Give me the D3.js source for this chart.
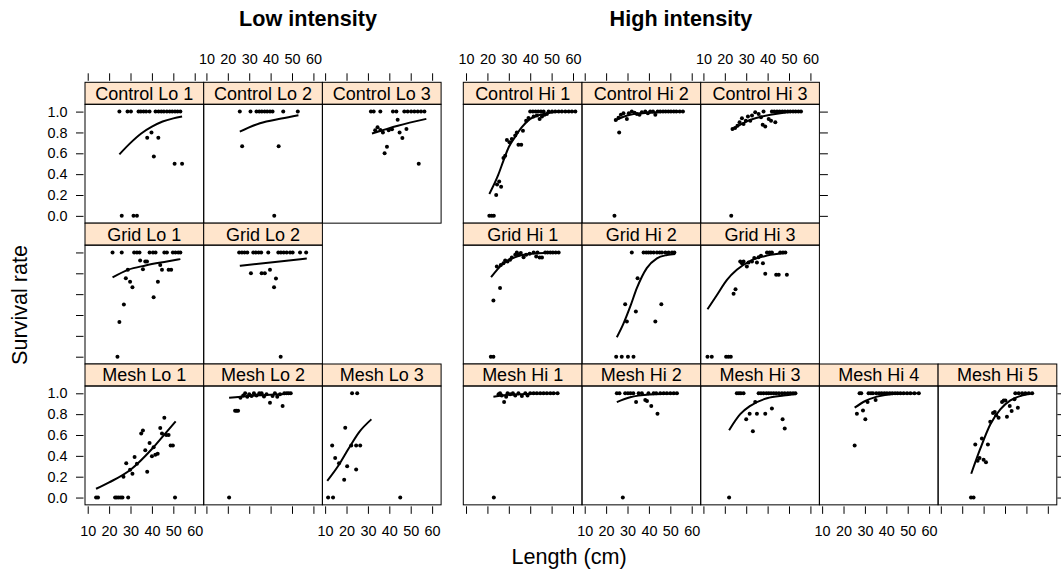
<!DOCTYPE html>
<html><head><meta charset="utf-8">
<script src="https://cdn.jsdelivr.net/npm/d3@7"></script>
<style>
body{margin:0;background:#fff}
svg{display:block}
text{font-family:"Liberation Sans",Arial,Helvetica,sans-serif;fill:#000}
</style>
</head><body>
<svg id="chart" width="1061" height="574"></svg>
<script>
// ---------- tick labels ----------
const xTicks = [10, 20, 30, 40, 50, 60];
const yTicks = [0, 0.2, 0.4, 0.6, 0.8, 1.0];

// ---------- panel layout (names) ----------
const loLayout = [
  ["Control Lo 1", "Control Lo 2", "Control Lo 3"],
  ["Grid Lo 1", "Grid Lo 2", null],
  ["Mesh Lo 1", "Mesh Lo 2", "Mesh Lo 3"]
];
const hiLayout = [
  ["Control Hi 1", "Control Hi 2", "Control Hi 3", null, null],
  ["Grid Hi 1", "Grid Hi 2", "Grid Hi 3", null, null],
  ["Mesh Hi 1", "Mesh Hi 2", "Mesh Hi 3", "Mesh Hi 4", "Mesh Hi 5"]
];

// ---------- data: observed points [length, survival] and fitted curve ----------
const ptsControlLo1 = [[24.8,1],[28.6,1],[30.2,1],[33.75,1],[34.8,1],[36.1,1],[37.3,1],[38.9,1],[41.7,1],[43.1,1],[44.4,1],[45.6,1],[47,1],[48.3,1],[49.5,1],[50.8,1],[52,1],[53.3,1],
  [37.8,0.75],[39.8,0.8],[43,0.75],[40.9,0.57],[50.6,0.5],[54.1,0.5],[25.9,0],[31.4,0],[33,0]];
const fitControlLo1 = [[24.8,0.59],[30,0.70],[35,0.79],[40,0.855],[45,0.905],[50,0.935],[54.1,0.952]];

const ptsControlLo2 = [[25.6,1],[30.6,1],[33.4,1],[34.7,1],[35.9,1],[37.2,1],[38.4,1],[39.7,1],[40.9,1],[45.9,1],[52.7,1],
  [26.7,0.667],[43.75,0.667],[41.7,0]];
const fitControlLo2 = [[25.6,0.808],[35,0.888],[45,0.933],[53,0.965]];

const ptsControlLo3 = [[31.4,1],[32.7,1],[35.8,1],[41.7,1],[43.3,1],[47,1],[48.6,1],[50.2,1],[51.7,1],[53.3,1],[54.8,1],[56.4,1],
  [43.9,0.923],[33.4,0.82],[34.5,0.85],[35.8,0.824],[37,0.8],[39.7,0.82],[41.25,0.83],[44.8,0.8],[46.1,0.747],[48,0.833],[38.9,0.663],[37.8,0.6],[53.75,0.5]];
const fitControlLo3 = [[31.9,0.79],[44,0.865],[57.3,0.93]];

const ptsGridLo1 = [[21.6,1],[25.9,1],[31.7,1],[33,1],[34.2,1],[38.9,1],[40.5,1],[41.7,1],[45.8,1],[47,1],[49.8,1],[51,1],[52.3,1],[53.3,1],
  [34.5,0.923],[36.9,0.913],[37.7,0.913],[28.75,0.833],[35.8,0.84],[43.9,0.88],[44.7,0.833],[47.8,0.833],[49,0.833],[27.8,0.753],[29.8,0.718],[30.9,0.667],[42.8,0.718],[40.8,0.57],[26.9,0.5],[24.8,0.333],[23.9,0]];
const fitGridLo1 = [[21.6,0.76],[28.75,0.833],[37,0.875],[47,0.913],[53.3,0.936]];

const ptsGridLo2 = [[25.3,1],[26.6,1],[27.8,1],[29.1,1],[31.9,1],[33.1,1],[34.4,1],[35.6,1],[38.9,1],[43.6,1],[44.8,1],[46.1,1],[47.5,1],[49.1,1],[50.3,1],[53.75,1],[56.6,1],
  [30.8,0.8],[35.8,0.8],[37.3,0.8],[39.7,0.833],[42.5,0.75],[41.6,0.667],[44.7,0]];
const fitGridLo2 = [[25.6,0.872],[41,0.907],[56.9,0.942]];

const ptsMeshLo1 = [[13.9,0],[14.8,0],[22.8,0],[23.6,0],[24.5,0],[25.5,0],[26.25,0],[28.9,0],[50.8,0],
  [28,0.33],[26.7,0.2],[31.9,0.39],[33,0.325],[30.9,0.228],[29.8,0.267],[35,0.614],[35.8,0.643],[36.9,0.453],[37.8,0.248],[38.9,0.524],[40,0.395],[40.8,0.482],[41.6,0.41],[42.7,0.42],[43.9,0.666],[44.7,0.614],[45.8,0.765],[46.7,0.6],[47.8,0.6],[48.75,0.5],[49.8,0.5]];
const fitMeshLo1 = [[13.9,0.084],[20,0.145],[30,0.267],[40,0.466],[47,0.633],[51.1,0.73]];

const ptsMeshLo2 = [[20.6,0],[23.4,0.833],[24.1,0.833],[24.8,0.833],[25.9,0.958],[27.2,0.98],[28.1,1],[29.1,0.968],[30,0.99],[31.1,0.974],[32.2,1],[33.4,0.98],[34.7,1],[35.8,1],[36.9,0.97],[38.1,0.99],[39.7,0.91],[40.9,0.974],[42,1],[43.1,0.968],[44.4,0.99],[45.6,0.878],[46.4,1],[47.5,1],[48.4,1],[49.4,1]];
const fitMeshLo2 = [[20.6,0.958],[30,0.975],[40,0.987],[49.4,0.995]];

const ptsMeshLo3 = [[11.4,0],[13.7,0],[45.1,0],[22.6,1],[25,1],[13.3,0.5],[14.7,0.38],[18.9,0.17],[20.3,0.3],[19.4,0.67],[22.2,0.5],[24.5,0.5],[26.4,0.5],[24.5,0.27],[16.5,0.33]];
const fitMeshLo3 = [[11,0.16],[16,0.3],[21,0.47],[26,0.63],[31.6,0.75]];

const ptsControlHi1 = [[20.9,0],[22,0],[23,0],[24.1,0.2],[24.5,0.3],[25.5,0.33],[26.4,0.28],[27.5,0.554],[28.3,0.577],[29.1,0.728],[30.3,0.705],[31.4,0.737],[33,0.77],[33.75,0.8],[34.5,0.683],[35.8,0.683],[36.6,0.817],[38.1,0.913],[39.2,0.939],[41.6,0.952],[43.1,0.962],[44.4,0.93],[45.5,0.952],[46.7,0.97],[47.8,0.976],
  [40,1],[41.25,1],[42.5,1],[43.75,1],[45,1],[46.25,1],[48.6,1],[50.2,1],[51.7,1],[53.3,1],[54.8,1],[56.4,1],[58,1],[59.5,1],[61.1,1]];
const fitControlHi1 = [[20.9,0.21],[25,0.39],[27.5,0.53],[30,0.66],[32.7,0.75],[36.1,0.85],[40,0.93],[44.7,0.97],[49.4,0.99],[55,1.0],[61,1.0]];

const ptsControlHi2 = [[23.9,0],[26.1,0.8],[24.5,0.92],[25.8,0.94],[26.9,0.97],[28.1,0.984],[29.7,0.93],[30.6,0.984],[32,1],[33.3,0.99],[34.4,0.976],[35.6,0.97],[36.7,0.994],[38.3,1],[39.5,0.984],[40.6,1],[41.9,1],[43,0.97],[44.1,1],[45.3,1],[46.6,1],[47.8,1],[49.1,1],[50.3,1],[51.6,1],[52.8,1],[54.4,1],[55.9,1]];
const fitControlHi2 = [[23.9,0.913],[31.25,0.97],[40.6,0.99],[56.25,1.0]];

const ptsControlHi3 = [[23,0],[23.6,0.833],[24.8,0.843],[25.9,0.865],[26.9,0.897],[28,0.936],[28.75,0.88],[29.8,0.913],[30.8,0.952],[31.9,0.913],[32.7,0.962],[34.2,0.994],[35.8,0.978],[36.9,0.946],[37.7,0.875],[38.9,0.856],[40.5,0.93],[41.6,0.913],[43.6,0.897],[38.1,1],
  [42,1],[43.1,1],[44.4,1],[45.6,1],[46.9,1],[48.1,1],[49.4,1],[50.6,1],[51.9,1],[53.1,1],[54.4,1],[55.6,1]];
const fitControlHi3 = [[23,0.824],[31.9,0.92],[41.25,0.97],[47.5,0.99],[56,1.0]];

const ptsGridHi1 = [[21.6,0],[22.8,0],[22.8,0.538],[25.9,0.66],[24.4,0.865],[26.25,0.88],[27.5,0.897],[28.3,0.923],[29.4,0.913],[30.6,0.93],[31.4,0.952],[33,0.978],[33.75,1],[34.5,0.978],[35.6,0.994],[36.9,0.955],[38.1,0.978],[39.7,0.987],[41.6,1],[42.8,0.96],[44.4,0.952],[45.5,0.952],
  [43.4,1],[47,1],[48.1,1],[49.4,1],[50.6,1],[51.9,1],[53.3,1]];
const fitGridHi1 = [[21.7,0.763],[27.5,0.897],[33.75,0.96],[41.6,0.99],[53.3,1.0]];

const ptsGridHi2 = [[24.7,0],[27.3,0],[30.2,0],[32.8,0],[29.7,0.337],[28.9,0.503],[33.9,0.433],[34.7,0.753],[32,1],[43,0.337],[45.8,0.503],
  [37.5,1],[38.75,1],[39.8,1],[40.9,1],[42.2,1],[43.75,1],[45,1],[46.1,1],[47.7,1],[49.2,1],[50.8,1],[51.9,1]];
const fitGridHi2 = [[25,0.186],[28.1,0.317],[31.25,0.48],[34.4,0.66],[39,0.85],[43.75,0.944],[48.4,0.975],[52.3,0.985]];

const ptsGridHi3 = [[11.9,0],[13.9,0],[20.6,0],[21.7,0],[22.8,0],[24.1,0.603],[25,0.647],[27.2,0.913],[28,0.897],[28.75,0.913],[30.3,0.865],[31.1,0.904],[32.7,0.913],[33.75,0.946],[35,0.904],[35.8,0.955],[37.8,0.897],[38.9,0.795],[36.9,0.968],
  [39.7,1],[40.9,1],[42,1],[45.9,1],[47.2,1],[48.3,1],[44,0.785],[45.2,0.785],[49,0.785]];
const fitGridHi3 = [[11.9,0.455],[16.25,0.59],[21,0.737],[25.6,0.833],[31.9,0.92],[39.7,0.97],[48.3,0.994]];

const ptsMeshHi1 = [[23,0],[25.2,0.99],[25.9,1],[26.7,0.98],[27.8,0.916],[28.75,0.968],[29.4,1],[30.6,0.99],[31.9,1],[33,0.98],[34.5,1],[36.1,0.974],[37.7,1],[38.75,0.98],[40,1],[41.6,1],[43.1,1],[44.7,1],[46.25,1],[47.8,1],[49.4,1],[50.9,1],[52.8,1]];
const fitMeshHi1 = [[22.8,0.968],[30,0.985],[40,0.995],[53.3,1.0]];

const ptsMeshHi2 = [[27.8,0],[25,1],[26.25,1],[28.9,1],[30.2,1],[31.4,1],[32.7,1],[34,0.916],[35.2,1],[36.7,1],[38.3,0.935],[39.1,0.926],[39.8,1],[41.1,0.878],[42.2,1],[43.4,1],[44,0.804],[45.3,1],[46.9,1],[48.4,1],[50,1],[51.6,1],[53.1,1]];
const fitMeshHi2 = [[25,0.916],[31.25,0.962],[40.6,0.988],[53.1,0.997]];

const ptsMeshHi3 = [[22,0],[25.6,1],[26.6,1],[27.5,1],[28.75,1],[35.8,1],[36.9,1],[38.1,1],[39.4,1],[40.5,1],[41.6,1],[42.8,1],[44,1],[45.3,1],[46.7,1],[48,1],[49.4,1],[50.6,1],[51.9,1],[53,1],
  [34.2,0.916],[30,0.75],[31.6,0.804],[33.1,0.637],[35,0.804],[38.9,0.804],[42,0.855],[47,0.75],[48,0.662]];
const fitMeshHi3 = [[22,0.646],[27.2,0.8],[31.9,0.88],[39.7,0.952],[47.5,0.978],[53,0.99]];

const ptsMeshHi4 = [[25.2,0.5],[26.25,0.804],[29.1,0.836],[30.2,0.75],[31.25,0.916],[35,0.936],
  [27.5,1],[28.3,1],[31.7,1],[32.8,1],[33.75,1],[35.3,1],[36.6,1],[37.8,1],[39.1,1],[40.3,1],[41.6,1],[42.8,1],[44.1,1],[45.3,1],[46.6,1],[48.1,1],[49.7,1],[51.25,1],[53.1,1],[55.2,1]];
const fitMeshHi4 = [[25.2,0.862],[30.2,0.926],[35.6,0.968],[43.4,0.994],[55.2,1.0]];

const ptsMeshHi5 = [[24.1,0],[25.3,0],[26.1,0.508],[29.2,0.566],[32,0.508],[27.2,0.354],[28.1,0.38],[30,0.363],[31.1,0.338],[33.1,0.727],[34.4,0.81],[35.2,0.82],[35.9,0.79],[37,0.765],[38.6,0.916],[39.4,0.932],[40.2,0.932],[40.9,0.775],[42.2,0.878],[43.1,0.83],[44.4,0.942],[46,0.862],
  [44.8,1],[46.4,1],[48,1],[49.5,1],[51.1,1],[52.7,1]];
const fitMeshHi5 = [[24.2,0.228],[28.4,0.466],[33.1,0.701],[37.8,0.846],[42.5,0.932],[47.2,0.974],[52.7,0.997]];

const panelData = {
  "Control Lo 1": [ptsControlLo1, fitControlLo1], "Control Lo 2": [ptsControlLo2, fitControlLo2], "Control Lo 3": [ptsControlLo3, fitControlLo3],
  "Grid Lo 1": [ptsGridLo1, fitGridLo1], "Grid Lo 2": [ptsGridLo2, fitGridLo2],
  "Mesh Lo 1": [ptsMeshLo1, fitMeshLo1], "Mesh Lo 2": [ptsMeshLo2, fitMeshLo2], "Mesh Lo 3": [ptsMeshLo3, fitMeshLo3],
  "Control Hi 1": [ptsControlHi1, fitControlHi1], "Control Hi 2": [ptsControlHi2, fitControlHi2], "Control Hi 3": [ptsControlHi3, fitControlHi3],
  "Grid Hi 1": [ptsGridHi1, fitGridHi1], "Grid Hi 2": [ptsGridHi2, fitGridHi2], "Grid Hi 3": [ptsGridHi3, fitGridHi3],
  "Mesh Hi 1": [ptsMeshHi1, fitMeshHi1], "Mesh Hi 2": [ptsMeshHi2, fitMeshHi2], "Mesh Hi 3": [ptsMeshHi3, fitMeshHi3],
  "Mesh Hi 4": [ptsMeshHi4, fitMeshHi4], "Mesh Hi 5": [ptsMeshHi5, fitMeshHi5]
};

// ---------- geometry ----------
const svg = d3.select("#chart");
const panelW = 118.7;
const rowTop0 = 82.3, rowPitch = 140.85, stripH = 22;
const xDomain = [8.73, 64.2], yDomain = [-0.07, 1.07];
const tickLen = 7.5, tickGap = 1.5;
const tickFont = 14.4, stripFont = 18, labFont = 21.6, titleFont = 21.6;
const stripFill = "#ffe5cc";

let clipId = 0;
const line = d3.line().curve(d3.curveMonotoneX);

function styleAxis(g) {
  g.select(".domain").remove();
  g.selectAll(".tick line").attr("stroke", "#000").attr("stroke-width", 1);
  g.selectAll(".tick text").attr("font-size", tickFont).attr("fill", "#000");
  g.attr("font-family", null).attr("font-size", null);
}

function drawBlock(layout, left, opts) {
  const nRows = layout.length;
  layout.forEach((row, r) => {
    row.forEach((name, c) => {
      if (!name) return;
      const x0 = left + c * panelW;
      const sTop = rowTop0 + r * rowPitch;
      const pTop = sTop + stripH;
      const pBot = rowTop0 + (r + 1) * rowPitch;
      const x = d3.scaleLinear().domain(xDomain).range([x0, x0 + panelW]);
      const y = d3.scaleLinear().domain(yDomain).range([pBot, pTop]);
      const [pts, fit] = panelData[name];
      const id = "clip" + (clipId++);
      svg.append("clipPath").attr("id", id).append("rect")
        .attr("x", x0).attr("y", pTop).attr("width", panelW).attr("height", pBot - pTop);
      const g = svg.append("g").attr("clip-path", `url(#${id})`);
      g.selectAll("circle").data(pts).join("circle")
        .attr("cx", d => x(d[0])).attr("cy", d => y(d[1])).attr("r", 2).attr("fill", "#000");
      g.append("path").attr("d", line(fit.map(d => [x(d[0]), y(d[1])])))
        .attr("fill", "none").attr("stroke", "#000").attr("stroke-width", 2);
      // strip
      svg.append("rect").attr("x", x0).attr("y", sTop).attr("width", panelW).attr("height", stripH)
        .attr("fill", stripFill).attr("stroke", "#000").attr("stroke-width", 1);
      svg.append("text").attr("x", x0 + panelW / 2).attr("y", sTop + stripH / 2 + 0.358 * stripFont)
        .attr("text-anchor", "middle").attr("font-size", stripFont).text(name);
      // panel border
      svg.append("rect").attr("x", x0).attr("y", pTop).attr("width", panelW).attr("height", pBot - pTop)
        .attr("fill", "none").attr("stroke", "#000").attr("stroke-width", 1);

      if (r === 0) {
        const lab = (c % 2) === opts.topLabelParity;
        const ax = d3.axisTop(x).tickValues(xTicks).tickSize(tickLen).tickPadding(9.8)
          .tickFormat(lab ? d3.format("d") : () => "");
        svg.append("g").attr("transform", `translate(0,${sTop - tickGap})`).call(ax).call(styleAxis);
      }
      if (r === nRows - 1) {
        const lab = (c % 2) === opts.bottomLabelParity;
        const ax = d3.axisBottom(x).tickValues(xTicks).tickSize(tickLen).tickPadding(11.8)
          .tickFormat(lab ? d3.format("d") : () => "");
        svg.append("g").attr("transform", `translate(0,${pBot + tickGap})`).call(ax).call(styleAxis);
      }
      if (opts.left && c === 0) {
        const lab = r !== 1;
        const ax = d3.axisLeft(y).tickValues(yTicks).tickSize(tickLen).tickPadding(8.5)
          .tickFormat(lab ? d3.format(".1f") : () => "");
        svg.append("g").attr("transform", `translate(${x0 - tickGap},0)`).call(ax).call(styleAxis);
      }
      if (opts.right && opts.right.includes(r)) {
        const lastC = row.reduce((m, n, i) => n ? i : m, 0);
        if (c === lastC) {
          const ax = d3.axisRight(y).tickValues(yTicks).tickSize(8).tickFormat(() => "");
          svg.append("g").attr("transform", `translate(${x0 + panelW + 0.5},0)`).call(ax).call(styleAxis);
        }
      }
    });
  });
}

drawBlock(loLayout, 85, { topLabelParity: 1, bottomLabelParity: 0, left: true, right: null });
drawBlock(hiLayout, 463.3, { topLabelParity: 0, bottomLabelParity: 1, left: false, right: [0, 2] });

// ---------- titles & axis labels ----------
svg.append("text").attr("x", 308).attr("y", 26).attr("text-anchor", "middle")
  .attr("font-size", titleFont).attr("font-weight", "bold").text("Low intensity");
svg.append("text").attr("x", 681).attr("y", 26).attr("text-anchor", "middle")
  .attr("font-size", titleFont).attr("font-weight", "bold").text("High intensity");
svg.append("text").attr("x", 569).attr("y", 564).attr("text-anchor", "middle")
  .attr("font-size", labFont).text("Length (cm)");
svg.append("text").attr("transform", "translate(27,305) rotate(-90)").attr("text-anchor", "middle")
  .attr("font-size", labFont).text("Survival rate");
</script>
</body></html>
